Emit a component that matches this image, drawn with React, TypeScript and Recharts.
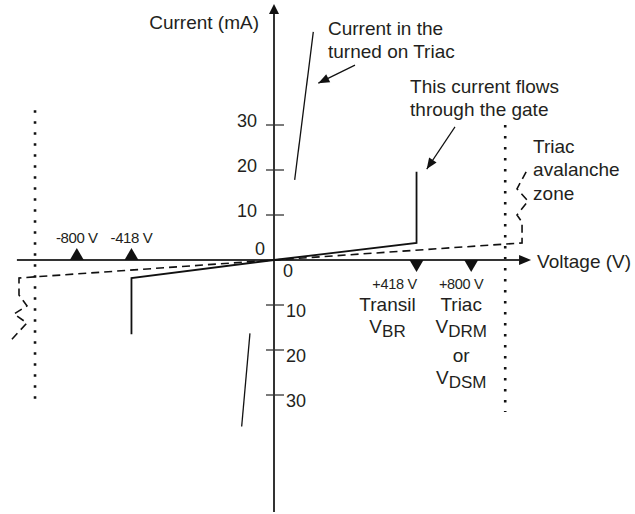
import React from 'react';
import { LineChart, Line, XAxis, YAxis, ReferenceDot } from 'recharts';

// ---- data (voltage in V on a sqrt-compressed schematic axis, current in mA) ----
const xAxisLine = [{ x: -1360, y: 0 }, { x: 1240, y: 0 }];
const yAxisLine = [{ x: 0, y: -56 }, { x: 0, y: 55 }];
const transilCurve = [
  { x: -418, y: -16.5 }, { x: -418, y: -4 }, { x: 0, y: 0 }, { x: 418, y: 3.8 }, { x: 418, y: 19.6 },
];
const triacCurve = [
  { x: -1413, y: -17.6 }, { x: -1256, y: -14 }, { x: -1391, y: -12 }, { x: -1256, y: -10.2 },
  { x: -1338, y: -7.8 }, { x: -1338, y: -4 }, { x: 0, y: 0 }, { x: 1266, y: 3.8 },
  { x: 1266, y: 8.4 }, { x: 1215, y: 10 }, { x: 1328, y: 13.1 }, { x: 1215, y: 15.8 }, { x: 1328, y: 20.4 },
];
const triacOnUpper = [{ x: 31.8, y: 50.7 }, { x: 8.8, y: 17.8 }];
const triacOnLower = [{ x: -11.9, y: -16.3 }, { x: -21.5, y: -37 }];
const avalancheLeft = [{ x: -1175, y: 33.3 }, { x: -1175, y: -32.2 }];
const avalancheRight = [{ x: 1100, y: 30 }, { x: 1100, y: -33.8 }];
const arrowTriacOn = [{ x: 135, y: 43.3 }, { x: 40.4, y: 39.3 }];
const arrowGate = [{ x: 674, y: 29.6 }, { x: 480, y: 20.2 }];

const yTicks = [30, 20, 10, -10, -20, -30];
const yTickLabels = ['30', '20', '10', '10', '20', '30'];
const markerVoltages = [-800, -418, 418, 800];
const markerLabels = ['-800 V', '-418 V', '+418 V', '+800 V'];
const markerNames = ['', '', 'Transil', 'Triac'];

const noteTriacOn = { x: 60, y: 50, lines: ['Current in the', 'turned on Triac'] };
const noteGate = { x: 381, y: 37.1, lines: ['This current flows', 'through the gate'] };
const noteAvalanche = { x: 1381, y: 23.8, lines: ['Triac', 'avalanche', 'zone'] };

const FONT = '"Liberation Sans", Arial, Helvetica, sans-serif';
const INK = '#231f20';
const AXIS = '#333333';

function makeArrowDot(color: string) {
  let prev: { cx: number; cy: number } | null = null;
  return (props: any) => {
    const { cx, cy, index } = props;
    if (index === 0 || !prev) {
      prev = { cx, cy };
      return <g key={`ad${index}`} />;
    }
    const dx = cx - prev.cx;
    const dy = cy - prev.cy;
    const len = Math.hypot(dx, dy) || 1;
    const ux = dx / len;
    const uy = dy / len;
    const L = 11;
    const W = 4.5;
    const bx = cx - ux * L;
    const by = cy - uy * L;
    const pts = `${cx},${cy} ${bx - uy * W},${by + ux * W} ${bx + uy * W},${by - ux * W}`;
    return <polygon key={`ad${index}`} points={pts} fill={color} />;
  };
}

const arrowDot1 = makeArrowDot('#111');
const arrowDot2 = makeArrowDot('#111');

const textProps = { fontFamily: FONT, fill: INK } as const;

const noteShape = (lines: string[]) => (p: any) => (
  <g>
    {lines.map((t, i) => (
      <text key={i} x={p.cx} y={p.cy + i * 23.3} fontSize={19} {...textProps}>{t}</text>
    ))}
  </g>
);

const tickShape = (label: string, positive: boolean) => (p: any) => (
  <g>
    <line x1={p.cx - 8} x2={p.cx + 10} y1={p.cy} y2={p.cy} stroke={AXIS} strokeWidth={1.3} />
    <text
      x={positive ? p.cx - 17 : p.cx + 12}
      y={positive ? p.cy + 2 : p.cy + 12}
      textAnchor={positive ? 'end' : 'start'}
      fontSize={18}
      {...textProps}
    >
      {label}
    </text>
  </g>
);

const markerShape = (v: number, label: string, name: string) => (p: any) => {
  const { cx, cy } = p;
  if (v < 0) {
    return (
      <g>
        <polygon points={`${cx},${cy - 12} ${cx - 7},${cy} ${cx + 7},${cy}`} fill="#111" />
        <text x={cx} y={cy - 17} textAnchor="middle" fontSize={15} letterSpacing={-0.4} {...textProps}>{label}</text>
      </g>
    );
  }
  const isTransil = v < 600;
  const c = isTransil ? cx - 29 : cx - 10;
  return (
    <g>
      <polygon points={`${cx},${cy + 12} ${cx - 7},${cy} ${cx + 7},${cy}`} fill="#111" />
      <text x={isTransil ? cx - 22 : cx - 10} y={cy + 29} textAnchor="middle" fontSize={14.5} letterSpacing={-0.3} {...textProps}>{label}</text>
      <text x={c} y={cy + 51} textAnchor="middle" fontSize={19} {...textProps}>{name}</text>
      {isTransil ? (
        <text x={c} y={cy + 73} textAnchor="middle" fontSize={19} {...textProps}>
          V<tspan fontSize={17} dy={4}>BR</tspan>
        </text>
      ) : (
        <g>
          <text x={c} y={cy + 73} textAnchor="middle" fontSize={19} {...textProps}>
            V<tspan fontSize={17} dy={4}>DRM</tspan>
          </text>
          <text x={c} y={cy + 102} textAnchor="middle" fontSize={19} {...textProps}>or</text>
          <text x={c} y={cy + 124} textAnchor="middle" fontSize={19} {...textProps}>
            V<tspan fontSize={17} dy={4}>DSM</tspan>
          </text>
        </g>
      )}
    </g>
  );
};

export default function App() {
  return (
    <div style={{ position: 'absolute', left: 0, top: 0, width: 635, height: 514, background: '#fff' }}>
      <LineChart width={635} height={514} margin={{ top: 3.5, right: 91, bottom: 2, left: 4 }}>
        <XAxis dataKey="x" type="number" scale="sqrt" domain={[-1500, 1500]} allowDataOverflow hide />
        <YAxis type="number" domain={[-56, 57]} allowDataOverflow hide />

        <Line data={avalancheLeft} dataKey="y" stroke="#111" strokeWidth={2.6} strokeDasharray="2.6 8.4" dot={false} activeDot={false} isAnimationActive={false} />
        <Line data={avalancheRight} dataKey="y" stroke="#111" strokeWidth={2.6} strokeDasharray="2.6 8.4" dot={false} activeDot={false} isAnimationActive={false} />

        <Line data={xAxisLine} dataKey="y" stroke={AXIS} strokeWidth={2} dot={false} activeDot={false} isAnimationActive={false} />
        <Line data={yAxisLine} dataKey="y" stroke={AXIS} strokeWidth={2} dot={false} activeDot={false} isAnimationActive={false} />

        <Line data={triacCurve} dataKey="y" type="linear" stroke="#111" strokeWidth={1.6} strokeDasharray="8 5" dot={false} activeDot={false} isAnimationActive={false} />
        <Line data={transilCurve} dataKey="y" type="linear" stroke="#111" strokeWidth={1.8} dot={false} activeDot={false} isAnimationActive={false} />
        <Line data={triacOnUpper} dataKey="y" type="linear" stroke="#111" strokeWidth={1.3} dot={false} activeDot={false} isAnimationActive={false} />
        <Line data={triacOnLower} dataKey="y" type="linear" stroke="#111" strokeWidth={1.3} dot={false} activeDot={false} isAnimationActive={false} />

        <Line data={arrowTriacOn} dataKey="y" type="linear" stroke="#111" strokeWidth={1.2} dot={arrowDot1} activeDot={false} isAnimationActive={false} />
        <Line data={arrowGate} dataKey="y" type="linear" stroke="#111" strokeWidth={1.2} dot={arrowDot2} activeDot={false} isAnimationActive={false} />

        {/* axis arrowheads and titles */}
        <ReferenceDot
          x={0}
          y={57}
          r={0}
          shape={(p: any) => (
            <g>
              <polygon points={`${p.cx},${p.cy + 0.5} ${p.cx - 5},${p.cy + 10.5} ${p.cx + 5},${p.cy + 10.5}`} fill="#111" />
              <text x={p.cx - 15} y={p.cy + 25.5} textAnchor="end" fontSize={19} {...textProps}>Current (mA)</text>
            </g>
          )}
        />
        <ReferenceDot
          x={1360}
          y={0}
          r={0}
          shape={(p: any) => (
            <g>
              <polygon points={`${p.cx},${p.cy} ${p.cx - 12},${p.cy - 5} ${p.cx - 12},${p.cy + 5}`} fill="#111" />
              <text x={p.cx + 6} y={p.cy + 8} fontSize={19} {...textProps}>Voltage (V)</text>
            </g>
          )}
        />
        <ReferenceDot
          x={0}
          y={0}
          r={0}
          shape={(p: any) => (
            <g>
              <text x={p.cx - 9} y={p.cy - 5} textAnchor="end" fontSize={18} {...textProps}>0</text>
              <text x={p.cx + 9} y={p.cy + 17} fontSize={18} {...textProps}>0</text>
            </g>
          )}
        />

        {yTicks.map((t, i) => (
          <ReferenceDot key={`t${i}`} x={0} y={t} r={0} shape={tickShape(yTickLabels[i], t > 0)} />
        ))}

        {markerVoltages.map((v, i) => (
          <ReferenceDot key={`m${i}`} x={v} y={0} r={0} shape={markerShape(v, markerLabels[i], markerNames[i])} />
        ))}

        {[noteTriacOn, noteGate, noteAvalanche].map((n, i) => (
          <ReferenceDot key={`n${i}`} x={n.x} y={n.y} r={0} shape={noteShape(n.lines)} />
        ))}
      </LineChart>
    </div>
  );
}
